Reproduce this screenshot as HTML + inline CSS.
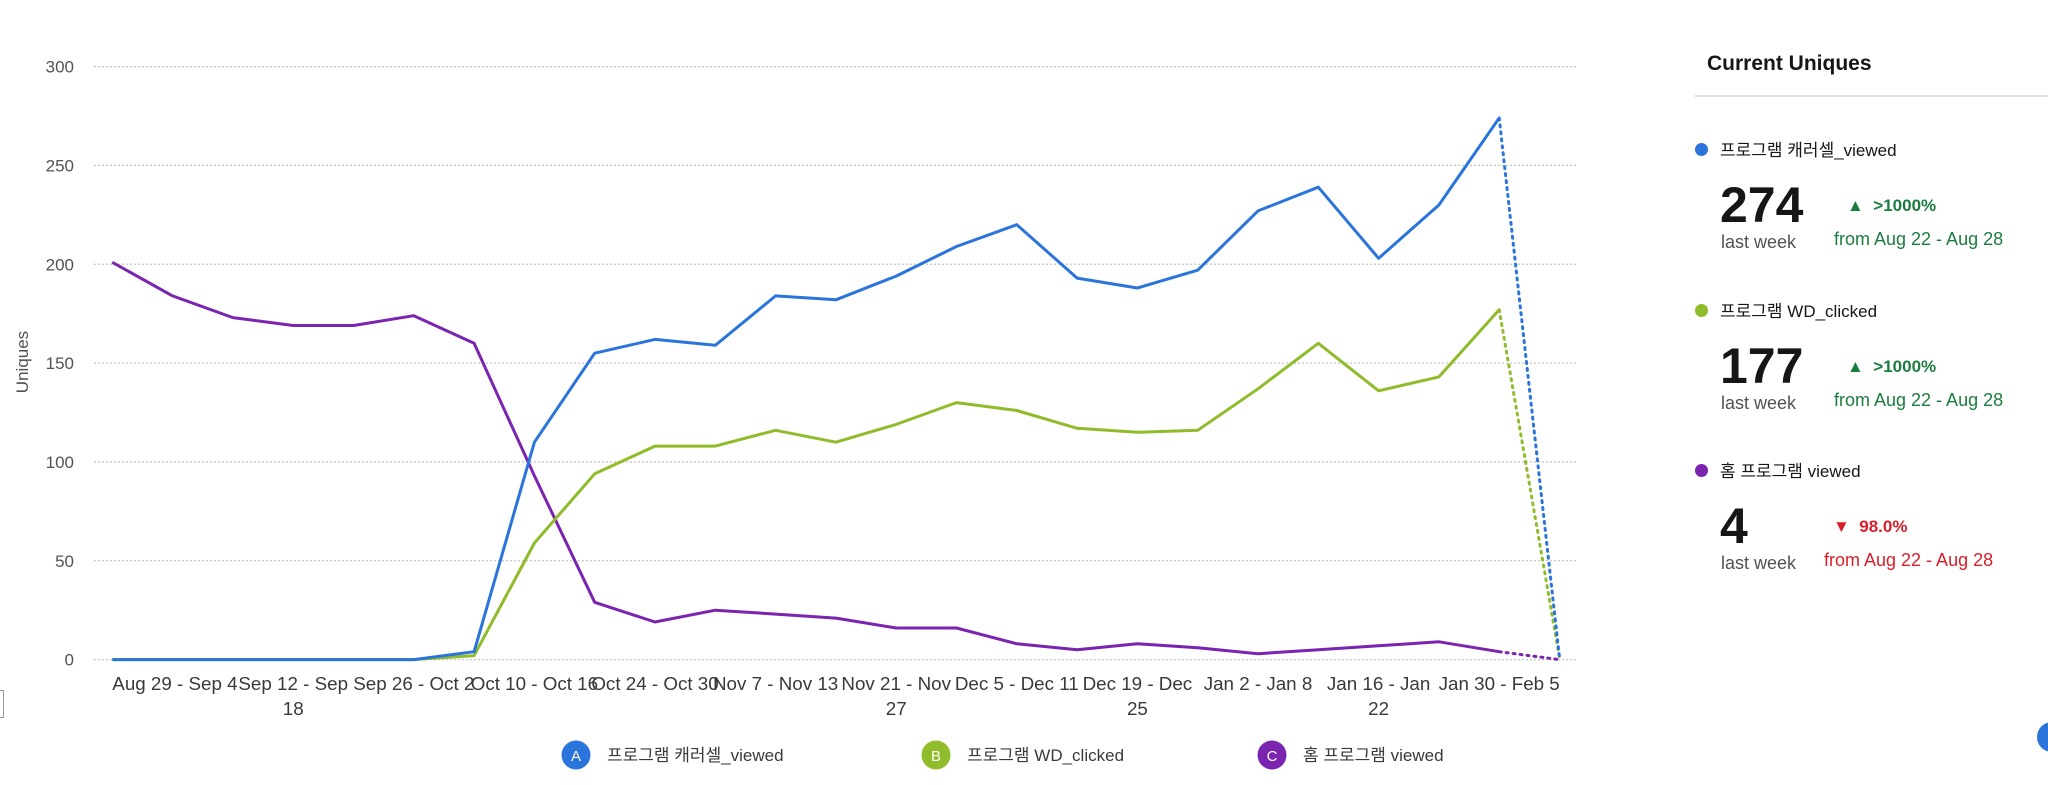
<!DOCTYPE html>
<html><head><meta charset="utf-8">
<style>
body{margin:0;background:#fff;width:2048px;height:785px;overflow:hidden;font-family:"Liberation Sans","Noto Sans CJK KR",sans-serif;}
#wrap{position:relative;width:2048px;height:785px;}
svg text{font-family:"Liberation Sans","Noto Sans CJK KR",sans-serif;}
.panel{position:absolute;left:1695px;top:0;width:353px;height:785px;}
.title{position:absolute;left:12px;top:52px;font-size:21px;font-weight:bold;color:#161616;}
.sep{position:absolute;left:0;top:95px;width:353px;height:2px;background:#e0e0e0;}
.entry{position:absolute;left:0;width:353px;height:150px;}
.dot{position:absolute;left:0;top:-6px;width:13px;height:13px;border-radius:50%;}
.ename{position:absolute;left:25px;top:-13px;font-size:17px;color:#161616;white-space:nowrap;}
.big{position:absolute;left:25px;top:29px;font-size:50px;font-weight:bold;color:#161616;line-height:54px;}
.lw{position:absolute;left:26px;top:83px;font-size:18px;color:#525252;}
.pct{position:absolute;font-size:17px;font-weight:bold;}
.from{position:absolute;font-size:18px;}
.up{color:#1b7d3d}.down{color:#da1e28}
</style></head><body>
<div id="wrap">
<svg id="chart" width="1640" height="785" style="position:absolute;left:0;top:0"></svg>
<div style="position:absolute;left:0;top:690px;width:3px;height:26px;border:1px solid #999;border-left:none"></div>
<div class="panel">
 <div class="title">Current Uniques</div>
 <div class="sep"></div>
 <div class="entry" style="top:149px">
  <div class="dot" style="background:#2a74db"></div>
  <div class="ename">프로그램 캐러셀_viewed</div>
  <div class="big">274</div>
  <div class="lw">last week</div>
  <div class="pct up" style="left:152px;top:47px">▲ &nbsp;&gt;1000%</div>
  <div class="from up" style="left:139px;top:80px">from Aug 22 - Aug 28</div>
 </div>
 <div class="entry" style="top:310px">
  <div class="dot" style="background:#8fbc2b"></div>
  <div class="ename">프로그램 WD_clicked</div>
  <div class="big">177</div>
  <div class="lw">last week</div>
  <div class="pct up" style="left:152px;top:47px">▲ &nbsp;&gt;1000%</div>
  <div class="from up" style="left:139px;top:80px">from Aug 22 - Aug 28</div>
 </div>
 <div class="entry" style="top:470px">
  <div class="dot" style="background:#7a24b0"></div>
  <div class="ename">홈 프로그램 viewed</div>
  <div class="big">4</div>
  <div class="lw">last week</div>
  <div class="pct down" style="left:138px;top:47px">▼ &nbsp;98.0%</div>
  <div class="from down" style="left:129px;top:80px">from Aug 22 - Aug 28</div>
 </div>
</div>
<div style="position:absolute;left:2037px;top:722px;width:30px;height:30px;border-radius:50%;background:#2a74db"></div>
</div>
<script>
const xLabels=[["Aug 29 - Sep 4"],["Sep 12 - Sep","18"],["Sep 26 - Oct 2"],["Oct 10 - Oct 16"],["Oct 24 - Oct 30"],["Nov 7 - Nov 13"],["Nov 21 - Nov","27"],["Dec 5 - Dec 11"],["Dec 19 - Dec","25"],["Jan 2 - Jan 8"],["Jan 16 - Jan","22"],["Jan 30 - Feb 5"]];
const yTicks=[0,50,100,150,200,250,300];
const blueVals=[0,0,0,0,0,0,4,110,155,162,159,184,182,194,209,220,193,188,197,227,239,203,230,274,1];
const greenVals=[0,0,0,0,0,0,2,59,94,108,108,116,110,119,130,126,117,115,116,137,160,136,143,177,1];
const purpleVals=[201,184,173,169,169,174,160,93,29,19,25,23,21,16,16,8,5,8,6,3,5,7,9,4,0];
const seriesNames=["프로그램 캐러셀_viewed","프로그램 WD_clicked","홈 프로그램 viewed"];

const svg=document.getElementById('chart');
const NS='http://www.w3.org/2000/svg';
const x0=112.3,step=60.3,yBase=659.6,yTop=66.6,yMax=300;
const xs=i=>x0+i*step;
const ys=v=>yBase-(v/yMax)*(yBase-yTop);
function mk(t,a){const e=document.createElementNS(NS,t);for(const k in a)e.setAttribute(k,a[k]);svg.appendChild(e);return e;}
yTicks.forEach(v=>{
 const g=mk('line',{x1:94,x2:1576,y1:ys(v),y2:ys(v),stroke:'#c6c6c6','stroke-width':1.3,'stroke-dasharray':'2 2'});
 
 
 const t=mk('text',{x:74,y:ys(v)+6,'text-anchor':'end','font-size':17,fill:'#525252'});
 t.textContent=v;
 
 
});
const yt=mk('text',{x:0,y:0,transform:'translate(28,362) rotate(-90)','text-anchor':'middle','font-size':17,fill:'#525252'});
yt.textContent='Uniques';


xLabels.forEach((l,i)=>{
 l.forEach((s,j)=>{
  const first=(i===0);
  const t=mk('text',{x:first?x0:xs(i*2+1),y:690+j*25,'text-anchor':first?'start':'middle','font-size':18.8,fill:'#393939'});
  t.textContent=s;
  
  
 });
});
function series(vals,color,name){
 const n=vals.length;
 let d='';
 for(let i=0;i<n-1;i++)d+=(i?'L':'M')+xs(i).toFixed(1)+' '+ys(vals[i]).toFixed(1);
 const p=mk('path',{d:d,fill:'none',stroke:color,'stroke-width':3,'stroke-linejoin':'round'});
 
 
 const q=mk('line',{x1:xs(n-2),y1:ys(vals[n-2]),x2:xs(n-1),y2:ys(vals[n-1]),stroke:color,'stroke-width':3,'stroke-dasharray':'2 5','stroke-linecap':'round'});
 
 
}
series(purpleVals,'#7a24b0','home-viewed');
series(greenVals,'#8fbc2b','wd-clicked');
series(blueVals,'#2a74db','carousel-viewed');
const leg=[[576,'#2a74db','A'],[936,'#8fbc2b','B'],[1272,'#7a24b0','C']];
leg.forEach((L,i)=>{
 const c=mk('circle',{cx:L[0],cy:755,r:14.5,fill:L[1]});
 
 
 const a=mk('text',{x:L[0],y:761,'text-anchor':'middle','font-size':15,fill:'#fff'});
 a.textContent=L[2];
 
 
 const t=mk('text',{x:L[0]+31,y:761,'font-size':17,fill:'#393939'});
 t.textContent=seriesNames[i];
 
 
});
</script>
</body></html>
